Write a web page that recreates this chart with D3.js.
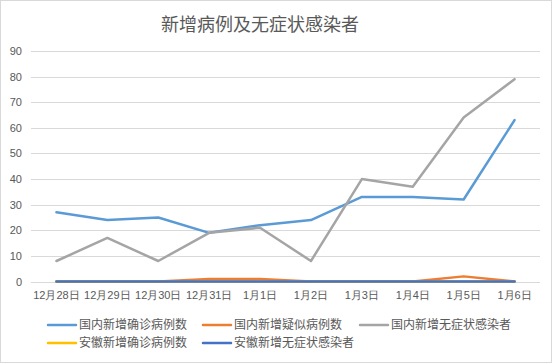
<!DOCTYPE html>
<html><head><meta charset="utf-8">
<script src="https://cdn.jsdelivr.net/npm/d3@7/dist/d3.min.js"></script>
<style>
html,body{margin:0;padding:0;background:#fff;}
svg{display:block;font-family:"Noto Sans CJK SC","Microsoft YaHei",sans-serif;}
</style></head>
<body><svg id="chart" width="555" height="364"></svg>
<script>
const categories = ["12月28日","12月29日","12月30日","12月31日","1月1日","1月2日","1月3日","1月4日","1月5日","1月6日"];
const seriesNames = ["国内新增确诊病例数","国内新增疑似病例数","国内新增无症状感染者","安徽新增确诊病例数","安徽新增无症状感染者"];
const confirmed = [27,24,25,19,22,24,33,33,32,63];
const suspected = [0,0,0,1,1,0,0,0,2,0];
const asymptomatic = [8,17,8,19,21,8,40,37,64,79];
const anhuiConfirmed = [0,0,0,0,0,0,0,0,0,0];
const anhuiAsymptomatic = [0,0,0,0,0,0,0,0,0,0];
const yTicks = [0,10,20,30,40,50,60,70,80,90];
const colors = ["#5B9BD5","#ED7D31","#A5A5A5","#FFC000","#4472C4"];
const seriesValues = [confirmed, suspected, asymptomatic, anhuiConfirmed, anhuiAsymptomatic];

const svg = d3.select("#chart");
svg.append("rect").attr("x",0.5).attr("y",0.5).attr("width",551).attr("height",362)
  .attr("fill","#fff").attr("stroke","#d9d9d9");

svg.append("text").attr("x",260).attr("y",31).attr("text-anchor","middle")
  .attr("font-size",18).attr("fill","#595959").text("新增病例及无症状感染者");

const x = d3.scaleBand().domain(categories).range([31,540]);
const y = d3.scaleLinear().domain([0,90]).range([281.5,51]);

const grid = svg.append("g");
grid.selectAll("line").data(yTicks).join("line")
  .attr("x1",31).attr("x2",540)
  .attr("y1",d=>Math.round(y(d))+0.5).attr("y2",d=>Math.round(y(d))+0.5)
  .attr("stroke","#d9d9d9").attr("stroke-width",1);

const yAxis = d3.axisLeft(y).tickValues(yTicks).tickSize(0).tickPadding(0);
const gy = svg.append("g").attr("transform","translate(22,0)").call(yAxis);
gy.select(".domain").remove();
gy.selectAll("text").attr("font-size",11).attr("fill","#595959").attr("font-family","inherit");

const xAxis = d3.axisBottom(x).tickSize(0).tickPadding(0);
const gx = svg.append("g").attr("transform","translate(0,291)").call(xAxis);
gx.select(".domain").remove();
gx.selectAll("text").attr("font-size",11).attr("fill","#595959").attr("font-family","inherit").attr("dy","0.71em");

const line = d3.line().x((d,i)=>x(categories[i])+x.bandwidth()/2).y(d=>y(d));
seriesValues.forEach((vals,k)=>{
  svg.append("path").datum(vals).attr("d",line).attr("fill","none")
    .attr("stroke",colors[k]).attr("stroke-width",2.5)
    .attr("stroke-linejoin","round").attr("stroke-linecap","round");
});

const legendPos = [[48,325],[203,325],[360,325],[48,343],[203,343]];
seriesNames.forEach((name,k)=>{
  const [lx,ly] = legendPos[k];
  const g = svg.append("g").attr("transform",`translate(${lx},${ly})`);
  g.append("line").attr("x1",0).attr("x2",28).attr("y1",0).attr("y2",0)
    .attr("stroke",colors[k]).attr("stroke-width",2.5).attr("stroke-linecap","round");
  g.append("text").attr("x",31).attr("y",0).attr("dy","0.35em")
    .attr("font-size",12).attr("fill","#595959").text(name);
});
</script></body></html>
